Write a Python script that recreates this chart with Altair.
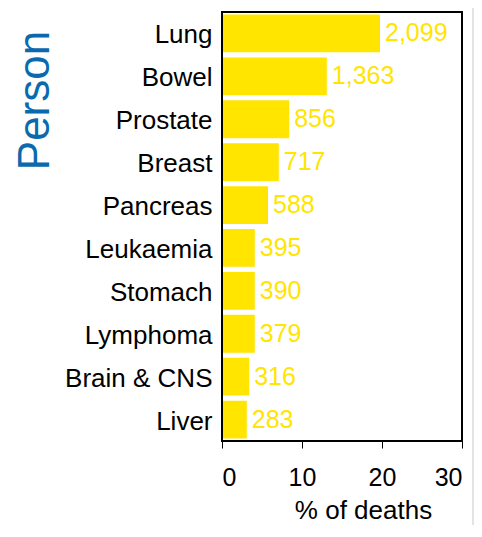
import altair as alt
import pandas as pd

cancers = ["Lung", "Bowel", "Prostate", "Breast", "Pancreas", "Leukaemia",
           "Stomach", "Lymphoma", "Brain & CNS", "Liver"]
pct_deaths = [19.75, 13.1, 8.4, 7.1, 5.75, 4.1, 4.1, 4.1, 3.4, 3.1]
death_labels = ["2,099", "1,363", "856", "717", "588", "395", "390", "379", "316", "283"]
x_ticks = [0, 10, 20, 30]

df = pd.DataFrame({"cancer": cancers, "pct": pct_deaths, "deaths": death_labels})

FONT = "Liberation Sans"
YELLOW = "#FFE500"
BLUE = "#0A6AAD"
W, H = 240, 429

y_enc = alt.Y(
    "cancer:N", sort=cancers,
    scale=alt.Scale(paddingInner=0.12, paddingOuter=0.06),
    axis=alt.Axis(
        ticks=False, domain=False, labelPadding=10, labelFontSize=26,
        labelFont=FONT, labelColor="black", labelOffset=2,
        title="Person", titleFontSize=44, titleFont=FONT, titleColor=BLUE,
        titleFontWeight="normal", titleAngle=270, titleX=-174, titleY=88,
        titleAlign="center", titleBaseline="alphabetic",
    ),
)

x_enc = alt.X(
    "pct:Q",
    scale=alt.Scale(domain=[0, 30], nice=False),
    axis=alt.Axis(
        values=x_ticks, domain=False, grid=False, tickColor="black", tickSize=7,
        tickWidth=1, labelFontSize=25, labelFont=FONT, labelColor="black",
        labelPadding=17,
        title="% of deaths", titleFontSize=26, titleFont=FONT, titleColor="black",
        titleFontWeight="normal", titleX=141, titleY=77, titleAlign="center",
        titleBaseline="alphabetic",
    ),
)

bars = alt.Chart(df).mark_bar(color=YELLOW).encode(x=x_enc, y=y_enc)

labels = alt.Chart(df).mark_text(
    align="left", baseline="middle", dx=5, fontSize=25, font=FONT, color=YELLOW
).encode(x="pct:Q", y=alt.Y("cancer:N", sort=cancers), text="deaths:N")

frame = alt.Chart(pd.DataFrame({"a": [0]})).mark_rect(
    fillOpacity=0, stroke="black", strokeWidth=2
).encode(x=alt.value(0), x2=alt.value(W), y=alt.value(0), y2=alt.value(H))

edge = alt.Chart(pd.DataFrame({"a": [0]})).mark_rule(color="#c8c8c8", strokeWidth=1).encode(
    x=alt.value(251), y=alt.value(-4), y2=alt.value(520)
)

chart = alt.layer(bars, labels, frame, edge).properties(
    width=W, height=H,
    background="white",
    autosize=alt.AutoSizeParams(type="none"),
    padding={"left": 214, "top": 4, "right": 12, "bottom": 84},
).configure_view(stroke="black", strokeWidth=2)

chart.save("out.html", embed_options={"renderer": "svg", "actions": False})
